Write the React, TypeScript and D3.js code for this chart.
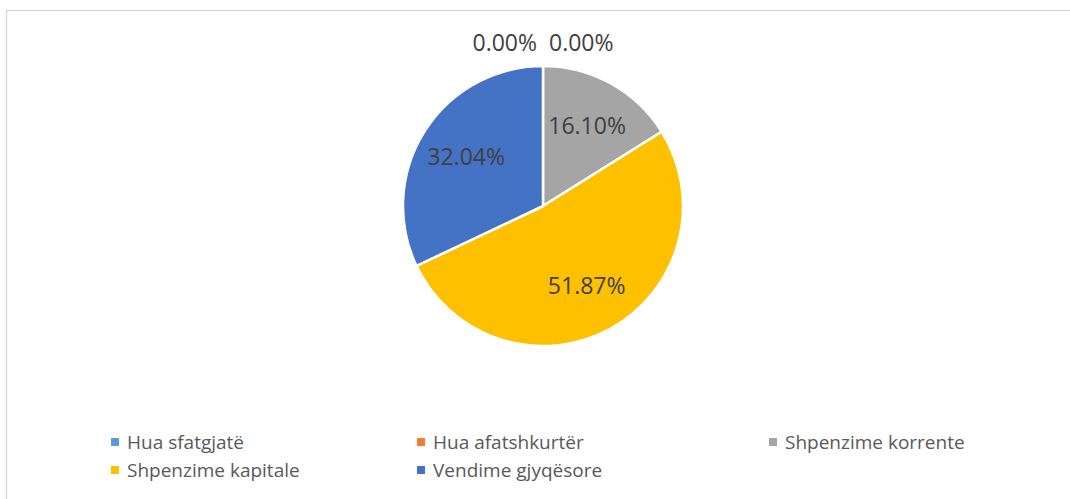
import React from "react";
import * as d3 from "d3";

const categories = [
  "Hua sfatgjatë",
  "Hua afatshkurtër",
  "Shpenzime korrente",
  "Shpenzime kapitale",
  "Vendime gjyqësore",
];
const shares = [0.0, 0.0, 16.1, 51.87, 32.04];
const colors = ["#5B9BD5", "#ED7D31", "#A5A5A5", "#FFC000", "#4472C4"];

const W = 1070;
const H = 499;
const cx = 543;
const cy = 206;
const radius = 140;
const font = "'Open Sans', 'DejaVu Sans', sans-serif";

export default function App() {
  const data = categories.map((name, i) => ({ name, value: shares[i], color: colors[i] }));
  const pie = d3.pie<any>().sort(null).value((d) => d.value);
  const arcs = pie(data);
  const arc = d3.arc<any>().innerRadius(0).outerRadius(radius);
  const labelArc = d3.arc<any>().innerRadius(radius * 0.65).outerRadius(radius * 0.65);

  let zeroCount = 0;
  const labels = arcs.map((a) => {
    const text = a.data.value.toFixed(2) + "%";
    if (a.data.value === 0) {
      const left = zeroCount % 2 === 0;
      zeroCount++;
      const ang = a.startAngle;
      const x = Math.sin(ang) * (radius + 15) + (left ? -6 : 6);
      const y = -Math.cos(ang) * (radius + 15);
      return { text, x, y, anchor: left ? "end" : "start", dy: 0 };
    }
    const [x, y] = labelArc.centroid(a);
    return { text, x, y, anchor: "middle", dy: 8 };
  });

  const colX = [111, 417, 769];
  const rowY = [438, 466];

  return (
    <svg width={W} height={H} style={{ position: "absolute", left: 0, top: 0, background: "#fff" }}>
      <rect x={6.5} y={10.5} width={W} height={H} fill="#fff" stroke="#d9d9d9" strokeWidth={1.5} />
      <g transform={`translate(${cx},${cy})`}>
        {arcs.map((a, i) => (
          <path key={i} d={arc(a) || ""} fill={a.data.color} stroke="#fff" strokeWidth={2.5} strokeLinejoin="round" />
        ))}
        {labels.map((l, i) => (
          <text
            key={i}
            x={l.x}
            y={l.y + l.dy}
            textAnchor={l.anchor as any}
            fontFamily={font}
            fontSize={23}
            fill="#404040"
          >
            {l.text}
          </text>
        ))}
      </g>
      <g>
        {data.map((d, i) => {
          const x = colX[i % 3];
          const y = rowY[Math.floor(i / 3)];
          return (
            <g key={i} transform={`translate(${x},${y})`}>
              <rect width={8} height={8} fill={d.color} />
              <text x={16} y={11} fontFamily={font} fontSize={19} fill="#595959">
                {d.name}
              </text>
            </g>
          );
        })}
      </g>
    </svg>
  );
}
